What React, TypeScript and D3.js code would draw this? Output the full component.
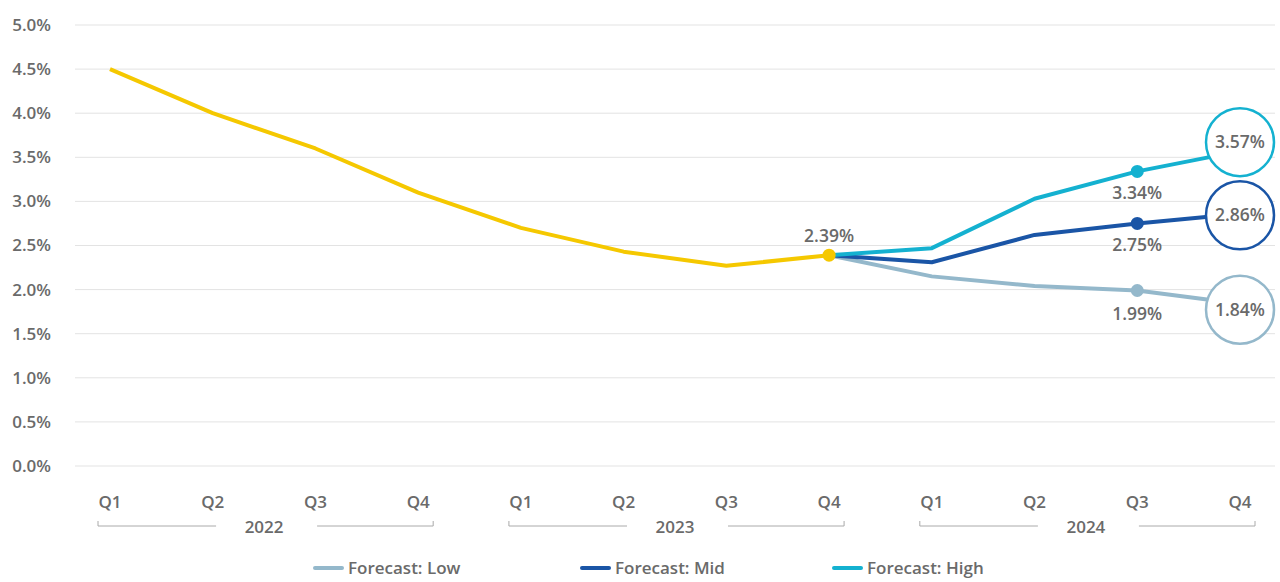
import React from "react";
import * as d3 from "d3";

const quarters = ["Q1", "Q2", "Q3", "Q4"];
const years = ["2022", "2023", "2024"];
const periods = years.flatMap((y) => quarters.map((q) => `${y} ${q}`));

const actualPeriods = periods.slice(0, 8);
const actualValues = [4.5, 4.0, 3.6, 3.1, 2.7, 2.43, 2.27, 2.39];

const forecastPeriods = periods.slice(7);
const lowValues = [2.39, 2.15, 2.04, 1.99, 1.84];
const midValues = [2.39, 2.31, 2.62, 2.75, 2.86];
const highValues = [2.39, 2.47, 3.03, 3.34, 3.57];

const yTicks = [0, 0.5, 1, 1.5, 2, 2.5, 3, 3.5, 4, 4.5, 5];

const seriesNames = ["Forecast: Low", "Forecast: Mid", "Forecast: High"];

const W = 1280;
const H = 582;
const TEXT = "#6a6a6a";
const FONT = "'Source Sans Pro', 'Open Sans', 'Noto Sans', sans-serif";

export default function App() {
  const x = d3.scalePoint<string>().domain(periods).range([110, 1240]);
  const y = d3.scaleLinear().domain([0, 5]).range([466, 25]);
  const line = d3
    .line<[string, number]>()
    .x((d) => x(d[0]) as number)
    .y((d) => y(d[1]));

  const forecasts = [
    { name: seriesNames[0], values: lowValues, color: "#94b8cb", labelDy: 30, circleDy: 6 },
    { name: seriesNames[1], values: midValues, color: "#1a55a6", labelDy: 28, circleDy: 1.5 },
    { name: seriesNames[2], values: highValues, color: "#14b1d0", labelDy: 28, circleDy: -9 },
  ];

  const legendX = [315, 582, 834];

  return (
    <svg
      width={W}
      height={H}
      style={{ position: "absolute", left: 0, top: 0, display: "block", fontFamily: FONT, fontWeight: 600 }}
    >
      <rect width={W} height={H} fill="#fff" />
      {yTicks.map((t) => (
        <g key={t}>
          <line x1={75} x2={1275} y1={y(t)} y2={y(t)} stroke="#e3e3e3" strokeWidth={1} />
          <text x={51} y={y(t)} dy="0.35em" textAnchor="end" fontSize={17} fill={TEXT}>
            {d3.format(".1f")(t) + "%"}
          </text>
        </g>
      ))}
      {periods.map((p) => (
        <text key={p} x={x(p)} y={508} textAnchor="middle" fontSize={17} fill={TEXT}>
          {p.split(" ")[1]}
        </text>
      ))}
      {years.map((yr) => {
        const x0 = (x(`${yr} Q1`) as number) - 12;
        const x1 = (x(`${yr} Q4`) as number) + 15;
        const cx = ((x(`${yr} Q1`) as number) + (x(`${yr} Q4`) as number)) / 2;
        return (
          <g key={yr}>
            <path
              d={`M${x0},521V526H${cx - 48}M${cx + 53},526H${x1}V521`}
              fill="none"
              stroke="#aaaaaa"
              strokeWidth={1}
            />
            <text x={cx} y={533} textAnchor="middle" fontSize={17} fill={TEXT}>
              {yr}
            </text>
          </g>
        );
      })}

      <path
        d={line(actualPeriods.map((p, i) => [p, actualValues[i]]) as [string, number][]) || ""}
        fill="none"
        stroke="#f5c800"
        strokeWidth={4}
        strokeLinejoin="round"
      />
      {forecasts.map((s) => (
        <path
          key={s.name}
          d={line(forecastPeriods.map((p, i) => [p, s.values[i]]) as [string, number][]) || ""}
          fill="none"
          stroke={s.color}
          strokeWidth={4}
          strokeLinejoin="round"
        />
      ))}
      {forecasts.map((s) => {
        const p = forecastPeriods[3];
        const v = s.values[3];
        return (
          <g key={s.name + "pt"}>
            <circle cx={x(p)} cy={y(v)} r={6.5} fill={s.color} />
            <text x={x(p)} y={y(v) + s.labelDy} textAnchor="middle" fontSize={17.5} fill={TEXT}>
              {d3.format(".2f")(v) + "%"}
            </text>
          </g>
        );
      })}
      {forecasts.map((s) => {
        const p = forecastPeriods[4];
        const v = s.values[4];
        const cy = y(v) + s.circleDy;
        return (
          <g key={s.name + "end"}>
            <circle cx={x(p)} cy={cy} r={34} fill="#fff" stroke={s.color} strokeWidth={2.5} />
            <text x={x(p)} y={cy} dy="0.35em" textAnchor="middle" fontSize={17.5} fill={TEXT}>
              {d3.format(".2f")(v) + "%"}
            </text>
          </g>
        );
      })}
      <circle cx={x(actualPeriods[7])} cy={y(actualValues[7])} r={6.5} fill="#f5c800" />
      <text
        x={x(actualPeriods[7])}
        y={y(actualValues[7]) - 13}
        textAnchor="middle"
        fontSize={17.5}
        fill={TEXT}
      >
        {d3.format(".2f")(actualValues[7]) + "%"}
      </text>

      {forecasts.map((s, i) => (
        <g key={s.name + "leg"} transform={`translate(${legendX[i]},568)`}>
          <line x1={0} x2={27} y1={0} y2={0} stroke={s.color} strokeWidth={4} strokeLinecap="round" />
          <text x={33} y={0} dy="0.35em" fontSize={17} fill={TEXT}>
            {s.name}
          </text>
        </g>
      ))}
    </svg>
  );
}
